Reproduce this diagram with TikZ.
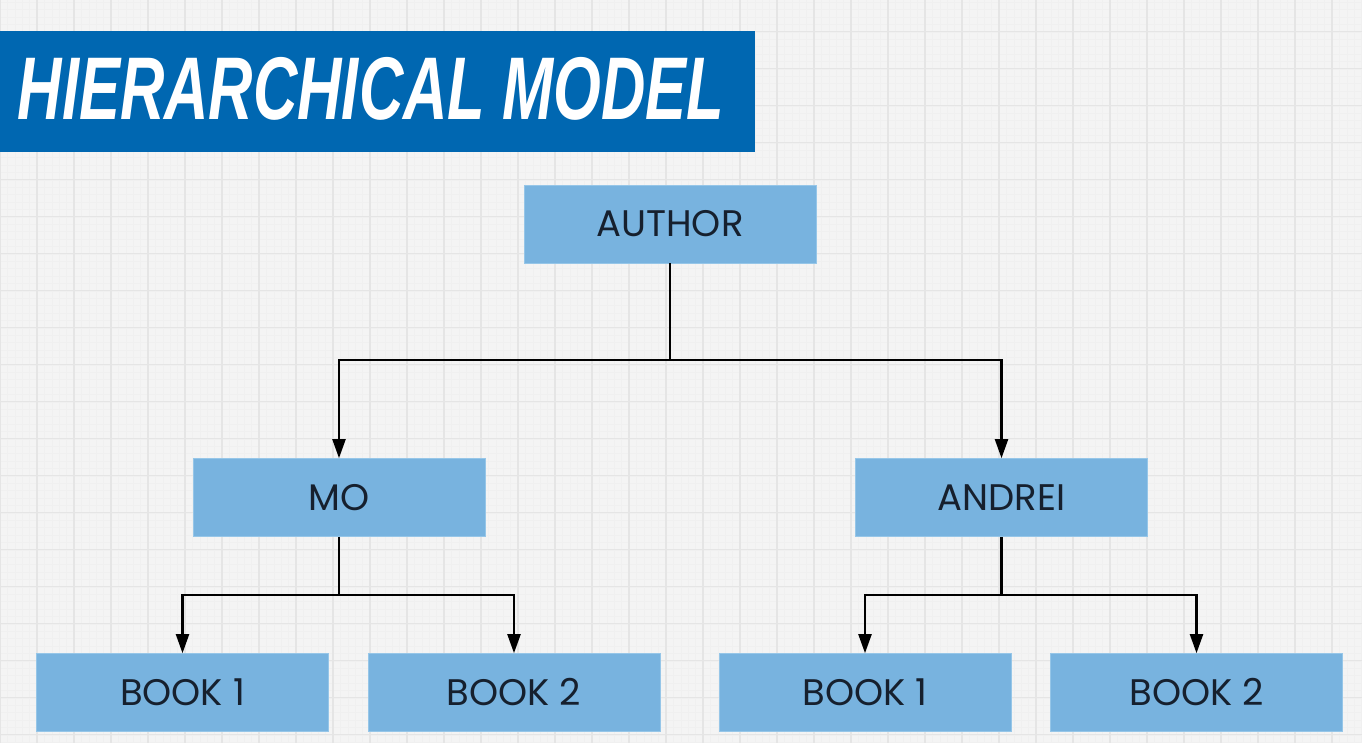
\documentclass[tikz,border=0pt]{standalone}
\usepackage{fontspec}
\usepackage{graphicx}
\usetikzlibrary{arrows.meta}
\newfontfamily\titlefont{Liberation Sans}
\newfontfamily\boxfont{Poppins}
\definecolor{paper}{RGB}{244,244,244}
\definecolor{gridmajor}{RGB}{229,229,229}
\definecolor{gridminor}{RGB}{240,240,240}
\definecolor{banner}{RGB}{0,103,177}
\definecolor{boxblue}{RGB}{120,179,223}
\definecolor{boxedge}{RGB}{150,198,232}
\definecolor{ink}{RGB}{22,32,46}
\tikzset{
  majorline/.style={draw=gridmajor, line width=1.3pt},
  minorline/.style={draw=gridminor, line width=0.35pt},
  entity/.style={rectangle, fill=boxblue, draw=boxedge, line width=0.6pt,
    minimum width=292pt, minimum height=78pt, inner sep=0pt,
    text=ink, font=\boxfont\fontsize{37}{37}\selectfont},
  link/.style={draw=black, line width=2.1pt, -{Triangle[length=19pt,width=13pt]}},
  plain/.style={draw=black, line width=2.1pt}
}
\begin{document}
\begin{tikzpicture}[x=1pt,y=-1pt]
\useasboundingbox (0,0) rectangle (1362,743);
% squared paper
\fill[paper] (0,0) rectangle (1362,743);
\foreach \k in {0,...,184} \draw[minorline] (7.4*\k,0) -- (7.4*\k,743);
\foreach \k in {0,...,101} \draw[minorline] (0,-5.3+7.4*\k) -- (1362,-5.3+7.4*\k);
\foreach \k in {0,...,36} \draw[majorline] (37*\k,0) -- (37*\k,743);
\foreach \k in {0,...,19} \draw[majorline] (0,31.7+37*\k) -- (1362,31.7+37*\k);

% heading banner
\node[rectangle, fill=banner, minimum width=755pt, minimum height=121pt, inner sep=0pt] (banner) at (377.5,91.5) {};
\node[text=white, inner sep=0pt, font=\titlefont\bfseries\itshape\fontsize{89}{89}\selectfont] (heading) at (371,88.5)
  {\scalebox{0.69}[1]{HIERARCHICAL MODEL}};

% entities
\node[entity] (author) at (670,224) {AUTHOR};
\node[entity] (mo) at (339,497.5) {MO};
\node[entity] (andrei) at (1001.5,497.5) {ANDREI};
\node[entity] (mob1) at (182.5,692.5) {BOOK 1};
\node[entity] (mob2) at (514,692.5) {BOOK 2};
\node[entity] (anb1) at (865,692.5) {BOOK 1};
\node[entity] (anb2) at (1196.5,692.5) {BOOK 2};

% junction points
\coordinate (j0) at (670,360);
\coordinate (j1) at (339,595);
\coordinate (j2) at (1001.5,595);

% connectors
\draw[plain] (author.south) -- (j0);
\draw[link] (j0) -| (mo.north);
\draw[link] (j0) -| (andrei.north);
\draw[plain] (mo.south) -- (j1);
\draw[link] (j1) -| (mob1.north);
\draw[link] (j1) -| (mob2.north);
\draw[plain] (andrei.south) -- (j2);
\draw[link] (j2) -| (anb1.north);
\draw[link] (j2) -| (anb2.north);
\end{tikzpicture}
\end{document}
